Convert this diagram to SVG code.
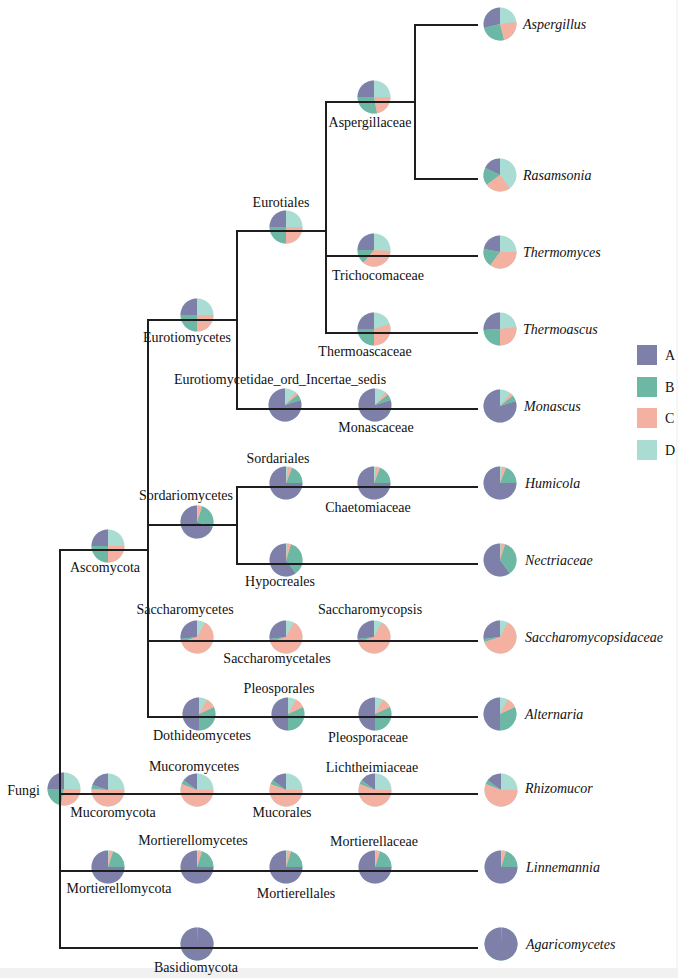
<svg xmlns="http://www.w3.org/2000/svg" width="678" height="978" viewBox="0 0 678 978">
<style>
.a{fill:#7e80aa}.b{fill:#6cb8a4}.c{fill:#f4b1a2}.d{fill:#a9dcd3}
.t{font-family:'Liberation Serif','DejaVu Serif',serif;font-size:14px;fill:#111}
.m{text-anchor:middle}.i{font-style:italic}
.ln{fill:none;stroke:#1e1e1e;stroke-width:2;stroke-linecap:square}
</style>
<defs>
<g id="pQ"><circle r="16.5" class="d"/><path class="a" d="M0,0L0,-16.5A16.5,16.5 0 0,0 -16.5,0Z"/><path class="b" d="M0,0L-16.5,0A16.5,16.5 0 0,0 0,16.5Z"/><path class="c" d="M0,0L0,16.5A16.5,16.5 0 0,0 16.5,0Z"/></g>
<g id="pFun"><circle r="16.5" class="d"/><path class="a" d="M0,0L0,-16.5A16.5,16.5 0 0,0 -16.5,0Z"/><path class="b" d="M0,0L-16.5,0A16.5,16.5 0 0,0 -3.09,16.21Z"/><path class="c" d="M0,0L-3.09,16.21A16.5,16.5 0 0,0 16.5,0Z"/></g>
<g id="pAsf"><circle r="16.5" class="d"/><path class="a" d="M0,0L0,-16.5A16.5,16.5 0 0,0 -16.5,0Z"/><path class="b" d="M0,0L-16.5,0A16.5,16.5 0 0,0 3.09,16.21Z"/><path class="c" d="M0,0L3.09,16.21A16.5,16.5 0 0,0 16.5,0Z"/></g>
<g id="pAsp"><circle r="16.5" class="d"/><path class="a" d="M0,0L0,-16.5A16.5,16.5 0 0,0 -15.98,4.1Z"/><path class="b" d="M0,0L-15.98,4.1A16.5,16.5 0 0,0 4.1,15.98Z"/><path class="c" d="M0,0L4.1,15.98A16.5,16.5 0 0,0 16.37,-2.07Z"/></g>
<g id="pRas"><circle r="16.5" class="d"/><path class="a" d="M0,0L0,-16.5A16.5,16.5 0 0,0 -14.93,-7.03Z"/><path class="b" d="M0,0L-14.93,-7.03A16.5,16.5 0 0,0 -13.35,9.7Z"/><path class="c" d="M0,0L-13.35,9.7A16.5,16.5 0 0,0 9.7,13.35Z"/></g>
<g id="pTri"><circle r="16.5" class="d"/><path class="a" d="M0,0L0,-16.5A16.5,16.5 0 0,0 -16.5,0Z"/><path class="b" d="M0,0L-16.5,0A16.5,16.5 0 0,0 -10.52,12.71Z"/><path class="c" d="M0,0L-10.52,12.71A16.5,16.5 0 0,0 16.47,1.04Z"/></g>
<g id="pTmy"><circle r="16.5" class="d"/><path class="a" d="M0,0L0,-16.5A16.5,16.5 0 0,0 -16.21,-3.09Z"/><path class="b" d="M0,0L-16.21,-3.09A16.5,16.5 0 0,0 -9.7,13.35Z"/><path class="c" d="M0,0L-9.7,13.35A16.5,16.5 0 0,0 16.5,0Z"/></g>
<g id="pTac"><circle r="16.5" class="d"/><path class="a" d="M0,0L0,-16.5A16.5,16.5 0 0,0 -16.5,0Z"/><path class="b" d="M0,0L-16.5,0A16.5,16.5 0 0,0 0,16.5Z"/><path class="c" d="M0,0L0,16.5A16.5,16.5 0 0,0 15.69,-5.1Z"/></g>
<g id="pTas"><circle r="16.5" class="d"/><path class="a" d="M0,0L0,-16.5A16.5,16.5 0 0,0 -16.47,1.04Z"/><path class="b" d="M0,0L-16.47,1.04A16.5,16.5 0 0,0 0,16.5Z"/><path class="c" d="M0,0L0,16.5A16.5,16.5 0 0,0 16.37,-2.07Z"/></g>
<g id="pMon"><circle r="16.5" class="d"/><path class="a" d="M0,0L0,-16.5A16.5,16.5 0 1,0 15.69,-5.1Z"/><path class="b" d="M0,0L15.69,-5.1A16.5,16.5 0 0,0 12.71,-10.52Z"/><path class="c" d="M0,0L12.71,-10.52A16.5,16.5 0 0,0 10.52,-12.71Z"/></g>
<g id="pSoc"><circle r="16.5" class="d"/><path class="a" d="M0,0L0,-16.5A16.5,16.5 0 1,0 15.69,5.1Z"/><path class="b" d="M0,0L15.69,5.1A16.5,16.5 0 0,0 5.1,-15.69Z"/><path class="c" d="M0,0L5.1,-15.69A16.5,16.5 0 0,0 1.04,-16.47Z"/></g>
<g id="pSor"><circle r="16.5" class="d"/><path class="a" d="M0,0L0,-16.5A16.5,16.5 0 1,0 16.5,0Z"/><path class="b" d="M0,0L16.5,0A16.5,16.5 0 0,0 6.07,-15.34Z"/><path class="c" d="M0,0L6.07,-15.34A16.5,16.5 0 0,0 2.07,-16.37Z"/></g>
<g id="pHyp"><circle r="16.5" class="d"/><path class="a" d="M0,0L0,-16.5A16.5,16.5 0 1,0 9.7,13.35Z"/><path class="b" d="M0,0L9.7,13.35A16.5,16.5 0 0,0 5.1,-15.69Z"/><path class="c" d="M0,0L5.1,-15.69A16.5,16.5 0 0,0 1.04,-16.47Z"/></g>
<g id="pSac"><circle r="16.5" class="d"/><path class="a" d="M0,0L0,-16.5A16.5,16.5 0 0,0 -16.37,2.07Z"/><path class="b" d="M0,0L-16.37,2.07A16.5,16.5 0 0,0 -15.69,5.1Z"/><path class="c" d="M0,0L-15.69,5.1A16.5,16.5 0 1,0 7.95,-14.46Z"/></g>
<g id="pDot"><circle r="16.5" class="d"/><path class="a" d="M0,0L0,-16.5A16.5,16.5 0 0,0 0,16.5Z"/><path class="b" d="M0,0L0,16.5A16.5,16.5 0 0,0 14.93,-7.03Z"/><path class="c" d="M0,0L14.93,-7.03A16.5,16.5 0 0,0 7.95,-14.46Z"/></g>
<g id="pMuc"><circle r="16.5" class="d"/><path class="a" d="M0,0L0,-16.5A16.5,16.5 0 0,0 -15.69,-5.1Z"/><path class="b" d="M0,0L-15.69,-5.1A16.5,16.5 0 0,0 -16.47,-1.04Z"/><path class="c" d="M0,0L-16.47,-1.04A16.5,16.5 0 1,0 16.5,0Z"/></g>
<g id="pMu2"><circle r="16.5" class="d"/><path class="a" d="M0,0L0,-16.5A16.5,16.5 0 0,0 -13.35,-9.7Z"/><path class="b" d="M0,0L-13.35,-9.7A16.5,16.5 0 0,0 -15.34,-6.07Z"/><path class="c" d="M0,0L-15.34,-6.07A16.5,16.5 0 1,0 16.5,0Z"/></g>
<g id="pMor"><circle r="16.5" class="d"/><path class="a" d="M0,0L0,-16.5A16.5,16.5 0 1,0 16.5,0Z"/><path class="b" d="M0,0L16.5,0A16.5,16.5 0 0,0 5.1,-15.69Z"/><path class="c" d="M0,0L5.1,-15.69A16.5,16.5 0 0,0 1.04,-16.47Z"/></g>
<g id="pBas"><circle r="16.5" class="b"/><path class="a" d="M0,0L0,-16.5A16.5,16.5 0 1,0 1.04,-16.47Z"/></g>
</defs>
<rect width="678" height="978" fill="#fff"/>
<rect x="0" y="968" width="678" height="10" fill="#f1f1f1"/>
<line x1="677" y1="0" x2="677" y2="968" stroke="#ececec" stroke-width="1"/>

<g id="nodes" class="t" font-family="Liberation Serif, DejaVu Serif, serif" font-size="14">
<g id="n-fungi"><use href="#pFun" x="64" y="789"/><text x="40" y="795" text-anchor="end">Fungi</text></g>
<g id="n-ascomycota"><use href="#pQ" x="108" y="546"/><text class="m" x="105" y="572">Ascomycota</text></g>
<g id="n-eurotiomycetes"><use href="#pQ" x="197" y="315"/><text class="m" x="187" y="342">Eurotiomycetes</text></g>
<g id="n-eurotiales"><use href="#pQ" x="286" y="227"/><text class="m" x="281" y="207">Eurotiales</text></g>
<g id="n-aspergillaceae"><use href="#pAsf" x="374" y="97"/><text class="m" x="370" y="127">Aspergillaceae</text></g>
<g id="n-aspergillus"><use href="#pAsp" x="500" y="24"/><text class="i" x="523" y="29">Aspergillus</text></g>
<g id="n-rasamsonia"><use href="#pRas" x="500" y="175"/><text class="i" x="523" y="180">Rasamsonia</text></g>
<g id="n-trichocomaceae"><use href="#pTri" x="374" y="250"/><text class="m" x="378" y="280">Trichocomaceae</text></g>
<g id="n-thermomyces"><use href="#pTmy" x="500" y="252"/><text class="i" x="523" y="257">Thermomyces</text></g>
<g id="n-thermoascaceae"><use href="#pTac" x="374" y="329"/><text class="m" x="365" y="356">Thermoascaceae</text></g>
<g id="n-thermoascus"><use href="#pTas" x="500" y="329"/><text class="i" x="523" y="334">Thermoascus</text></g>
<g id="n-eurotiomycetidae"><use href="#pMon" x="285" y="405"/><text class="m" x="280" y="384">Eurotiomycetidae_ord_Incertae_sedis</text></g>
<g id="n-monascaceae"><use href="#pMon" x="375" y="405"/><text class="m" x="376" y="432">Monascaceae</text></g>
<g id="n-monascus"><use href="#pMon" x="500" y="406"/><text class="i" x="524" y="411">Monascus</text></g>
<g id="n-sordariomycetes"><use href="#pSoc" x="197" y="522"/><text class="m" x="186" y="500">Sordariomycetes</text></g>
<g id="n-sordariales"><use href="#pSor" x="286" y="483"/><text class="m" x="278" y="463">Sordariales</text></g>
<g id="n-chaetomiaceae"><use href="#pSor" x="374" y="483"/><text class="m" x="368" y="512">Chaetomiaceae</text></g>
<g id="n-humicola"><use href="#pSor" x="500" y="483"/><text class="i" x="525" y="488">Humicola</text></g>
<g id="n-hypocreales"><use href="#pHyp" x="286" y="560"/><text class="m" x="280" y="586">Hypocreales</text></g>
<g id="n-nectriaceae"><use href="#pHyp" x="500" y="560"/><text class="i" x="525" y="565">Nectriaceae</text></g>
<g id="n-saccharomycetes"><use href="#pSac" x="197" y="637"/><text class="m" x="185" y="614">Saccharomycetes</text></g>
<g id="n-saccharomycetales"><use href="#pSac" x="286" y="637"/><text class="m" x="277" y="663">Saccharomycetales</text></g>
<g id="n-saccharomycopsis"><use href="#pSac" x="374" y="637"/><text class="m" x="370" y="614">Saccharomycopsis</text></g>
<g id="n-saccharomycopsidaceae"><use href="#pSac" x="500" y="637"/><text class="i" x="525" y="642">Saccharomycopsidaceae</text></g>
<g id="n-dothideomycetes"><use href="#pDot" x="199" y="714"/><text class="m" x="202" y="740">Dothideomycetes</text></g>
<g id="n-pleosporales"><use href="#pDot" x="288" y="714"/><text class="m" x="279" y="693">Pleosporales</text></g>
<g id="n-pleosporaceae"><use href="#pDot" x="375" y="714"/><text class="m" x="368" y="742">Pleosporaceae</text></g>
<g id="n-alternaria"><use href="#pDot" x="500" y="714"/><text class="i" x="525" y="719">Alternaria</text></g>
<g id="n-mucoromycota"><use href="#pMuc" x="108" y="790"/><text class="m" x="113" y="817">Mucoromycota</text></g>
<g id="n-mucoromycetes"><use href="#pMu2" x="197" y="790"/><text class="m" x="194" y="771">Mucoromycetes</text></g>
<g id="n-mucorales"><use href="#pMu2" x="286" y="790"/><text class="m" x="282" y="817">Mucorales</text></g>
<g id="n-lichtheimiaceae"><use href="#pMu2" x="375" y="790"/><text class="m" x="372" y="772">Lichtheimiaceae</text></g>
<g id="n-rhizomucor"><use href="#pMu2" x="501" y="790"/><text class="i" x="525" y="793">Rhizomucor</text></g>
<g id="n-mortierellomycota"><use href="#pMor" x="108" y="867"/><text class="m" x="119" y="893">Mortierellomycota</text></g>
<g id="n-mortierellomycetes"><use href="#pMor" x="197" y="867"/><text class="m" x="193" y="845">Mortierellomycetes</text></g>
<g id="n-mortierellales"><use href="#pMor" x="286" y="867"/><text class="m" x="296" y="898">Mortierellales</text></g>
<g id="n-mortierellaceae"><use href="#pMor" x="375" y="867"/><text class="m" x="374" y="846">Mortierellaceae</text></g>
<g id="n-linnemannia"><use href="#pMor" x="501" y="867"/><text class="i" x="526" y="872">Linnemannia</text></g>
<g id="n-basidiomycota"><use href="#pBas" x="197" y="944"/><text class="m" x="196" y="972">Basidiomycota</text></g>
<g id="n-agaricomycetes"><use href="#pBas" x="501" y="944"/><text class="i" x="526" y="949">Agaricomycetes</text></g>
</g>

<g id="connectors">
<path class="ln" d="M60,550V948M60,550H148M60,794H477M60,871H477M60,948H477
M148,320V717M148,320H237M148,525H237M148,641H477M148,717H477
M237,231V409M237,231H326M237,409H477
M237,487V564M237,487H477M237,564H477
M326,102V333M326,102H415M326,256H477M326,333H477
M415,25V179M415,25H477M415,179H477"/>
</g>

<g id="legend" class="t" font-family="Liberation Serif, DejaVu Serif, serif" font-size="14">
<rect x="637" y="345" width="20" height="20" class="a"/><text x="665" y="360">A</text>
<rect x="637" y="377" width="20" height="20" class="b"/><text x="665" y="392">B</text>
<rect x="637" y="408" width="20" height="20" class="c"/><text x="665" y="423">C</text>
<rect x="637" y="440" width="20" height="20" class="d"/><text x="665" y="455">D</text>
</g>
</svg>
